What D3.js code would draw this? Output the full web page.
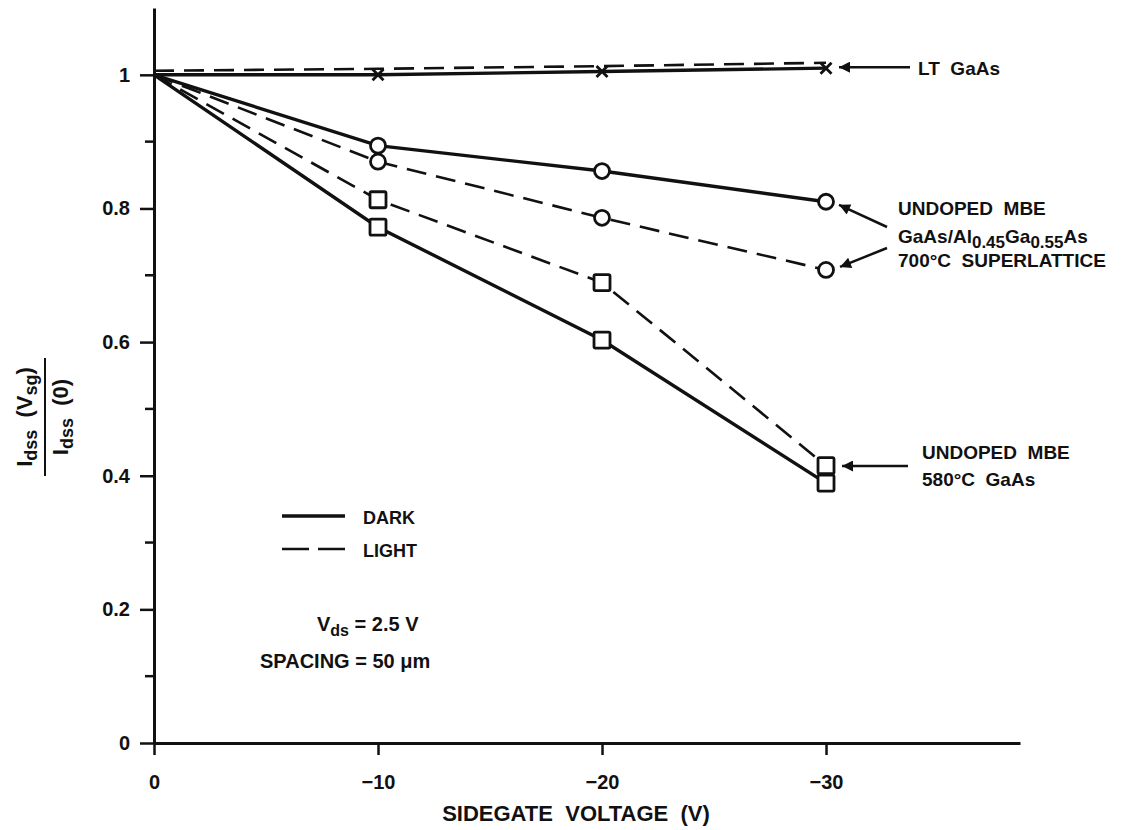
<!DOCTYPE html>
<html>
<head>
<meta charset="utf-8">
<script src="https://cdn.jsdelivr.net/npm/d3@7"></script>
<style>
  body { margin: 0; background: #fff; }
  text { font-family: "Liberation Sans", Arial, sans-serif; font-weight: bold; fill: #111; white-space: pre; }
</style>
</head>
<body>
<div id="chart"></div>
<script>
// sidegate voltage (V) at which Idss was measured
const voltages = [0, -10, -20, -30];
const xTicks = [0, -10, -20, -30];
const yTicks = [0, 0.2, 0.4, 0.6, 0.8, 1];
const yMinorTicks = [0.1, 0.3, 0.5, 0.7, 0.9];

// normalised Idss(Vsg)/Idss(0)
const ltDark = [1.0, 1.0, 1.005, 1.01];
const ltLight = [1.006, 1.009, 1.013, 1.018];
const slDark = [1.0, 0.894, 0.856, 0.810];
const slLight = [1.0, 0.870, 0.786, 0.708];
const gaDark = [1.0, 0.772, 0.603, 0.389];
const gaLight = [1.0, 0.813, 0.689, 0.415];

const series = [
  {name: "LT GaAs dark", values: ltDark, marker: "cross", dashed: false},
  {name: "LT GaAs light", values: ltLight, marker: "none", dashed: true},
  {name: "SL dark", values: slDark, marker: "circle", dashed: false},
  {name: "SL light", values: slLight, marker: "circle", dashed: true},
  {name: "GaAs dark", values: gaDark, marker: "square", dashed: false},
  {name: "GaAs light", values: gaLight, marker: "square", dashed: true}
];

const width = 1129, height = 830;
const svg = d3.select("#chart").append("svg")
  .attr("width", width).attr("height", height);

const x = d3.scaleLinear().domain([0, -38.66]).range([154, 1020]);
const y = d3.scaleLinear().domain([0, 1.1]).range([743, 8]);

// arrow head marker
svg.append("defs").append("marker")
  .attr("id", "arrow")
  .attr("viewBox", "0 0 10 10")
  .attr("refX", 10).attr("refY", 5)
  .attr("markerWidth", 18).attr("markerHeight", 11)
  .attr("markerUnits", "userSpaceOnUse")
  .attr("orient", "auto")
  .append("path").attr("d", "M0,0 L10,5 L0,10 Z").attr("fill", "#111");

// Y axis
const yAxis = svg.append("g")
  .attr("transform", `translate(${x(0)},0)`)
  .call(d3.axisLeft(y).tickValues(yTicks).tickSize(14).tickPadding(10)
    .tickSizeOuter(0).tickFormat(d => d === 0 || d === 1 ? d3.format("d")(d) : d3.format(".1f")(d)));
yAxis.select(".domain").attr("stroke-width", 3).attr("stroke", "#111");
yAxis.selectAll(".tick line").attr("stroke-width", 2.5).attr("stroke", "#111");
yAxis.selectAll(".tick text").style("font-size", "20px").style("font-family", "Liberation Sans").style("font-weight", "bold");

svg.append("g").selectAll("line").data(yMinorTicks).join("line")
  .attr("x1", x(0) - 9).attr("x2", x(0))
  .attr("y1", d => y(d)).attr("y2", d => y(d))
  .attr("stroke", "#111").attr("stroke-width", 2.5);

// X axis
const xAxis = svg.append("g")
  .attr("transform", `translate(0,${y(0)})`)
  .call(d3.axisBottom(x).tickValues(xTicks).tickSize(12).tickPadding(20).tickSizeOuter(0));
xAxis.select(".domain").attr("stroke-width", 3).attr("stroke", "#111");
xAxis.selectAll(".tick line").attr("stroke-width", 2.5).attr("stroke", "#111");
xAxis.selectAll(".tick text").style("font-size", "20px").style("font-family", "Liberation Sans").style("font-weight", "bold");

svg.append("text")
  .attr("x", 576).attr("y", 821)
  .attr("text-anchor", "middle")
  .style("font-size", "22px")
  .text("SIDEGATE  VOLTAGE  (V)");

// Y label as a fraction, rotated
const yl = svg.append("g").attr("transform", "translate(40,417) rotate(-90)");
const num = yl.append("text").attr("x", 0).attr("y", -8).attr("text-anchor", "middle").style("font-size", "22px");
num.append("tspan").text("I");
num.append("tspan").attr("baseline-shift", "-30%").style("font-size", "18px").text("dss");
num.append("tspan").text("  (V");
num.append("tspan").attr("baseline-shift", "-30%").style("font-size", "18px").text("sg");
num.append("tspan").text(")");
yl.append("line").attr("x1", -59).attr("x2", 59).attr("y1", 5).attr("y2", 5)
  .attr("stroke", "#111").attr("stroke-width", 2);
const den = yl.append("text").attr("x", 0).attr("y", 28).attr("text-anchor", "middle").style("font-size", "22px");
den.append("tspan").text("I");
den.append("tspan").attr("baseline-shift", "-30%").style("font-size", "18px").text("dss");
den.append("tspan").text("  (0)");

// data lines
const line = d3.line().x((d, i) => x(voltages[i])).y(d => y(d));
svg.append("g").selectAll("path").data(series).join("path")
  .attr("d", s => line(s.values))
  .attr("fill", "none")
  .attr("stroke", "#111")
  .attr("stroke-width", s => s.dashed ? 2.6 : 3.4)
  .attr("stroke-dasharray", s => s.dashed ? "20,10" : null);

// markers (not drawn at 0 V)
series.forEach(s => {
  const pts = s.values.map((v, i) => ({vx: voltages[i], vy: v})).filter(p => p.vx !== 0);
  const g = svg.append("g");
  if (s.marker === "circle") {
    g.selectAll("circle").data(pts).join("circle")
      .attr("cx", p => x(p.vx)).attr("cy", p => y(p.vy)).attr("r", 7.5)
      .attr("fill", "#fff").attr("stroke", "#111").attr("stroke-width", 2.8);
  } else if (s.marker === "square") {
    g.selectAll("rect").data(pts).join("rect")
      .attr("x", p => x(p.vx) - 8).attr("y", p => y(p.vy) - 8)
      .attr("width", 16).attr("height", 16).attr("rx", 1.5)
      .attr("fill", "#fff").attr("stroke", "#111").attr("stroke-width", 2.8);
  } else if (s.marker === "cross") {
    g.selectAll("path").data(pts).join("path")
      .attr("d", p => {
        const cx = x(p.vx), cy = y(p.vy), r = 5.5;
        return `M${cx - r},${cy - r}L${cx + r},${cy + r}M${cx - r},${cy + r}L${cx + r},${cy - r}`;
      })
      .attr("stroke", "#111").attr("stroke-width", 2.8).attr("fill", "none");
  }
});

// annotations
function arrow(x1, y1, x2, y2) {
  svg.append("line").attr("x1", x1).attr("y1", y1).attr("x2", x2).attr("y2", y2)
    .attr("stroke", "#111").attr("stroke-width", 2.5).attr("marker-end", "url(#arrow)");
}
const xEnd = x(-30);
arrow(910, y(ltDark[3]) - 1, xEnd + 13, y(ltDark[3]) - 1);
svg.append("text").attr("x", 918).attr("y", 75).style("font-size", "19px").text("LT  GaAs");

arrow(887, 227, xEnd + 13, y(slDark[3]) + 3);
arrow(887, 248, xEnd + 14, y(slLight[3]) - 3);
svg.append("text").attr("x", 898).attr("y", 215).style("font-size", "19px").text("UNDOPED  MBE");
const t2 = svg.append("text").attr("x", 898).attr("y", 243).style("font-size", "19px");
t2.append("tspan").text("GaAs/Al");
t2.append("tspan").attr("baseline-shift", "-30%").style("font-size", "17px").text("0.45");
t2.append("tspan").text("Ga");
t2.append("tspan").attr("baseline-shift", "-30%").style("font-size", "17px").text("0.55");
t2.append("tspan").text("As");
svg.append("text").attr("x", 898).attr("y", 267).style("font-size", "19px").text("700°C  SUPERLATTICE");

arrow(908, 466, xEnd + 16, 466);
svg.append("text").attr("x", 922).attr("y", 459).style("font-size", "19px").text("UNDOPED  MBE");
svg.append("text").attr("x", 922).attr("y", 486).style("font-size", "19px").text("580°C  GaAs");

// legend
svg.append("line").attr("x1", 282).attr("x2", 345).attr("y1", 516).attr("y2", 516)
  .attr("stroke", "#111").attr("stroke-width", 3.4);
svg.append("line").attr("x1", 282).attr("x2", 345).attr("y1", 549).attr("y2", 549)
  .attr("stroke", "#111").attr("stroke-width", 2.6).attr("stroke-dasharray", "27,9");
svg.append("text").attr("x", 363).attr("y", 524).style("font-size", "18px").text("DARK");
svg.append("text").attr("x", 363).attr("y", 557).style("font-size", "18px").text("LIGHT");

const vds = svg.append("text").attr("x", 317).attr("y", 631).style("font-size", "20px");
vds.append("tspan").text("V");
vds.append("tspan").attr("baseline-shift", "-30%").style("font-size", "16px").text("ds");
vds.append("tspan").text(" = 2.5 V");
svg.append("text").attr("x", 260).attr("y", 668).style("font-size", "20px").text("SPACING = 50 μm");
</script>
</body>
</html>
